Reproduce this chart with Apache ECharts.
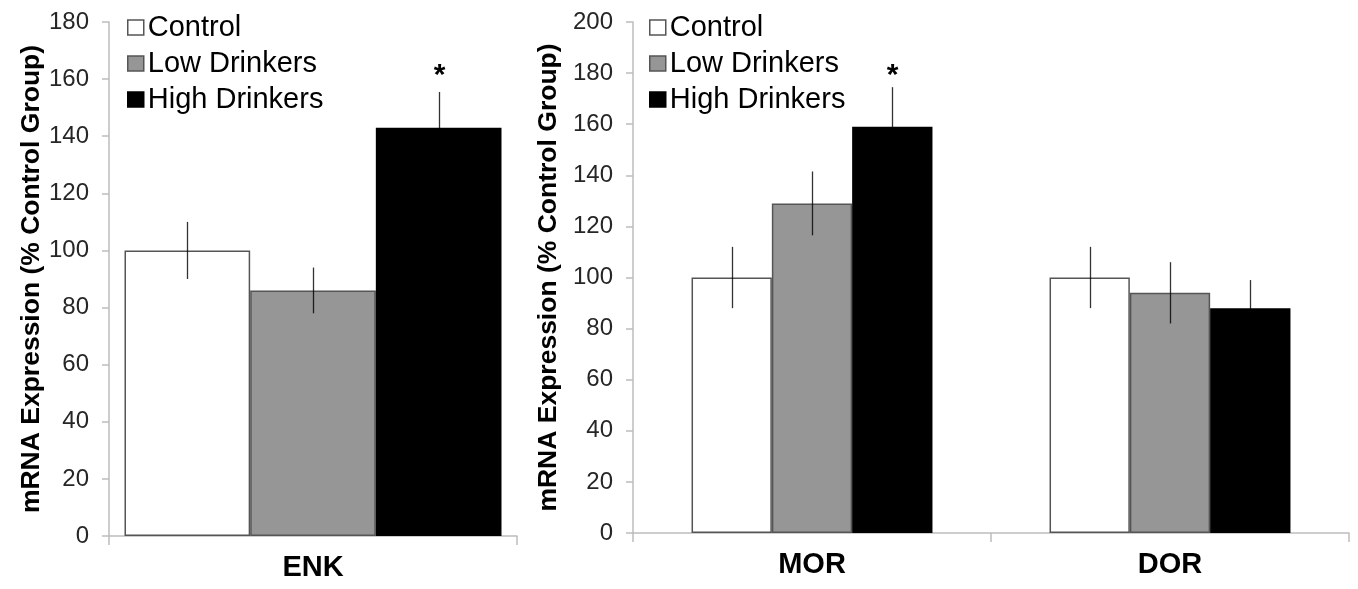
<!DOCTYPE html>
<html>
<head>
<meta charset="utf-8">
<script src="https://cdn.jsdelivr.net/npm/echarts@6/dist/echarts.min.js"></script>
<style>html,body{margin:0;padding:0;background:#fff;}#c{width:1358px;height:589px;}</style>
</head>
<body>
<div id="c"></div>
<script>
// ---- data ----
const groupNames = ['Control', 'Low Drinkers', 'High Drinkers'];
const leftCategories = ['ENK'];
const rightCategories = ['MOR', 'DOR'];
const leftTicks = [0, 20, 40, 60, 80, 100, 120, 140, 160, 180];
const rightTicks = [0, 20, 40, 60, 80, 100, 120, 140, 160, 180, 200];
const enkMean = [100, 86, 143];
const enkErr = [10, 8, 12.5];
const enkSig = [0, 0, 1];
const morMean = [100, 129, 159];
const morErr = [12, 12.5, 15.5];
const morSig = [0, 0, 1];
const dorMean = [100, 94, 88];
const dorErr = [12, 12, 11];
const dorSig = [0, 0, 0];
const yTitle = 'mRNA Expression (% Control Group)';

// ---- styles ----
const fills = ['#ffffff', '#969696', '#000000'];
const borders = ['#555555', '#555555', '#000000'];
const axisColor = '#bdbdbd';
const leftGap = 0.076, rightGap = 0.327;
const regularFont = "'Liberation Sans', Arial, sans-serif";

const chart = echarts.init(document.getElementById('c'));

function errRender(gap, starOffset) {
  return function (params, api) {
    const cat = api.value(0), g = api.value(1), m = api.value(2), e = api.value(3), s = api.value(4);
    const band = api.size([1, 0])[0];
    const bw = band * (1 - gap) / 3;
    const cx = Math.round(api.coord([cat, m])[0] + (g - 1) * bw) + 0.5;
    const yTop = api.coord([cat, m + e])[1];
    const yBot = api.coord([cat, m - e])[1];
    const children = [{
      type: 'line',
      shape: { x1: cx, y1: yTop, x2: cx, y2: yBot },
      style: { stroke: '#000000', lineWidth: 1.3, opacity: 0.8 }
    }];
    if (s) {
      children.push({
        type: 'text',
        style: { text: '*', x: cx, y: yTop - starOffset, align: 'center', verticalAlign: 'middle',
          font: "bold 30px 'Liberation Sans', Arial, sans-serif", fill: '#000' }
      });
    }
    return { type: 'group', children };
  };
}

function errData(means, errs, sigs, catIdx) {
  return means.map((m, g) => [catIdx, g, m, errs[g], sigs[g]]);
}

function yAxisCfg(gridIndex, max, margin, nameGap) {
  return {
    type: 'value', gridIndex, min: 0, max, interval: 20,
    name: yTitle, nameLocation: 'middle', nameGap,
    nameTextStyle: { fontFamily: regularFont, fontWeight: 'bold', fontSize: 26.5, color: '#000' },
    axisLine: { show: true, lineStyle: { color: axisColor, width: 1.5 } },
    axisTick: { show: true, length: 7, lineStyle: { color: axisColor, width: 1.5 } },
    axisLabel: { fontFamily: regularFont, fontSize: 24, color: '#262626', margin },
    splitLine: { show: false }
  };
}

function xAxisCfg(gridIndex, cats) {
  return {
    type: 'category', gridIndex, data: cats,
    axisLine: { show: true, lineStyle: { color: axisColor, width: 1.5 } },
    axisTick: { show: true, length: 9, lineStyle: { color: axisColor, width: 1.5 } },
    axisLabel: { fontFamily: regularFont, fontWeight: 'bold', fontSize: 29, color: '#000', margin: 17 }
  };
}

const series = [];
groupNames.forEach((n, g) => {
  series.push({
    name: n, type: 'bar', xAxisIndex: 0, yAxisIndex: 0,
    data: [enkMean[g]], barGap: '0%', barCategoryGap: (leftGap * 100) + '%',
    itemStyle: { color: fills[g], borderColor: borders[g], borderWidth: 1.5 }
  });
});
groupNames.forEach((n, g) => {
  series.push({
    name: n, type: 'bar', xAxisIndex: 1, yAxisIndex: 1,
    data: [morMean[g], dorMean[g]], barGap: '0%', barCategoryGap: (rightGap * 100) + '%',
    itemStyle: { color: fills[g], borderColor: borders[g], borderWidth: 1.5 }
  });
});
series.push({
  type: 'custom', xAxisIndex: 0, yAxisIndex: 0, z: 5,
  renderItem: errRender(leftGap, 16),
  data: errData(enkMean, enkErr, enkSig, 0),
  encode: { x: 0, y: 2 }
});
series.push({
  type: 'custom', xAxisIndex: 1, yAxisIndex: 1, z: 5,
  renderItem: errRender(rightGap, 11),
  data: errData(morMean, morErr, morSig, 0).concat(errData(dorMean, dorErr, dorSig, 1)),
  encode: { x: 0, y: 2 }
});

const legendBase = {
  data: groupNames, orient: 'vertical', top: 8, itemWidth: 16, itemHeight: 15, itemGap: 7,
  icon: 'rect', selectedMode: false,
  textStyle: { fontFamily: regularFont, fontSize: 29, color: '#000', padding: [0, 0, 0, -1] },
  itemStyle: { borderWidth: 1.5 }
};

chart.setOption({
  animation: false,
  backgroundColor: '#fff',
  grid: [
    { left: 109, top: 22, width: 408, height: 514 },
    { left: 633, top: 22, width: 716, height: 511 }
  ],
  legend: [
    Object.assign({}, legendBase, { left: 122 }),
    Object.assign({}, legendBase, { left: 644 })
  ],
  xAxis: [xAxisCfg(0, leftCategories), xAxisCfg(1, rightCategories)],
  yAxis: [
    yAxisCfg(0, leftTicks[leftTicks.length - 1], 20, 55),
    yAxisCfg(1, rightTicks[rightTicks.length - 1], 20, 57)
  ],
  series
});
</script>
</body>
</html>
